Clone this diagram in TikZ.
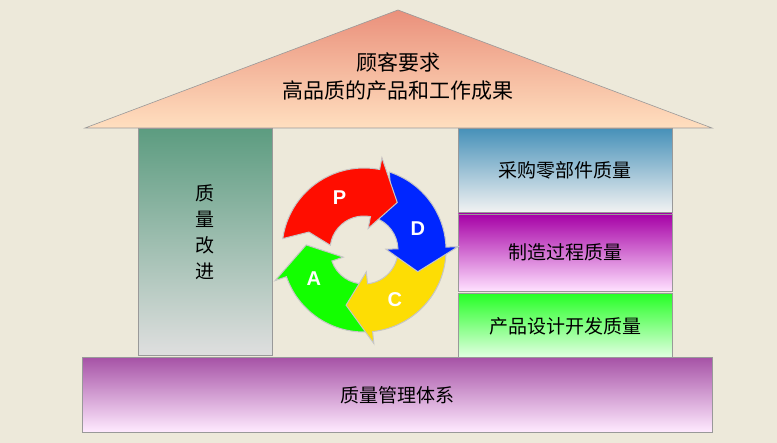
\documentclass[tikz,border=0pt]{standalone}
\usepackage{fontspec}
\setmainfont{Noto Sans CJK SC}
\setsansfont{Liberation Sans}
\usetikzlibrary{positioning,calc}
\definecolor{bg}{HTML}{EDE9DA}
\definecolor{pillar}{HTML}{5C9C80}
\definecolor{basetop}{HTML}{A652A6}
\tikzstyle{panel}=[draw=gray!80, line width=0.6pt, inner sep=0pt, font=\fontsize{19}{22}\selectfont]
\tikzstyle{seg}=[draw=gray!45, line width=1pt]
\tikzstyle{letter}=[text=white, font=\sffamily\bfseries\fontsize{20}{22}\selectfont]
\newcommand{\ringarrow}[3]{% start angle, end angle, colour
  \filldraw[seg,fill=#3] (#1:34) -- (#1-10:58) -- (#1:82) arc[start angle=#1, end angle=#2+24, radius=82]
    -- (#2+24:94) -- (#2:58) -- (#2+24:22) -- (#2+24:34)
    arc[start angle=#2+24, end angle=#1, radius=34] -- cycle;}
\begin{document}
\begin{tikzpicture}[x=1pt,y=1pt]
    \fill[bg] (0,0) rectangle (777,443);
    \useasboundingbox (0,0) rectangle (777,443);
    % roof
    \coordinate (rl) at (85,315);
    \coordinate (rr) at (712,315);
    \coordinate (rt) at (398,433);
    \shade[top color=red!45!brown!60, bottom color=orange!25] (rl) -- (rt) -- (rr) -- cycle;
    \draw[gray!80, line width=0.6pt] (rl) -- (rt) -- (rr) -- cycle;
    \node (need) at (398,381) {\fontsize{21}{24}\selectfont 顾客要求};
    \node (goal) [below=2pt of need] {\fontsize{21}{24}\selectfont 高品质的产品和工作成果};
    % pillars
    \node (improve) [panel, anchor=north west, minimum width=134, minimum height=227,
        top color=pillar, bottom color=gray!25] at (138,315) {};
    \node [align=center, font=\fontsize{19}{26}\selectfont] at ($(improve.center)+(0,10)$) {质\\量\\改\\进};
    \node (buy) [panel, anchor=north west, minimum width=214, minimum height=84,
        top color=blue!35!cyan!45!gray, bottom color=gray!10] at (458,315) {采购零部件质量};
    \node (make) [panel, below=1pt of buy, minimum width=214, minimum height=77,
        top color=violet!70!magenta, bottom color=magenta!12] {制造过程质量};
    \node (design) [panel, below=2pt of make, minimum width=214, minimum height=65,
        top color=green!85, bottom color=green!10] {产品设计开发质量};
    % base
    \node (system) [panel, anchor=north west, minimum width=630, minimum height=75,
        top color=basetop, bottom color=magenta!8] at (82,86) {质量管理体系};
    % PDCA
    \begin{scope}[shift={(364,193)}]
        \ringarrow{-88}{-185}{green!90!lime}
        \ringarrow{-2}{-108}{yellow!80!orange}
        \ringarrow{72}{-22}{blue!85!cyan}
        \ringarrow{172}{55}{red!90!orange}
        \node (P) [letter] at (115:58) {P};
        \node (D) [letter] at (22:58) {D};
        \node (C) [letter] at (-58:58) {C};
        \node (A) [letter] at (-150:58) {A};
    \end{scope}
\end{tikzpicture}
\end{document}
